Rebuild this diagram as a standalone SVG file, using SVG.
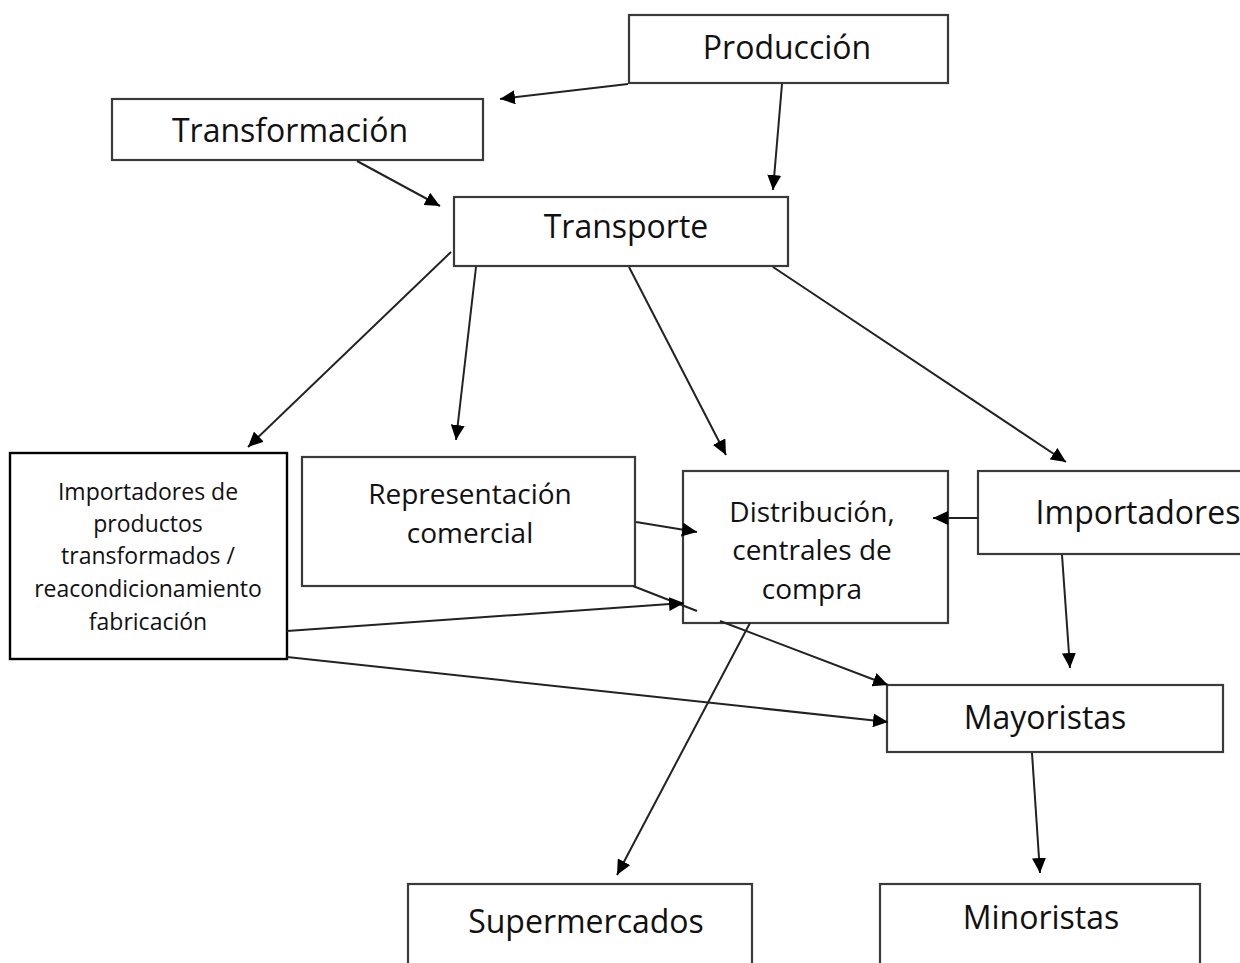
<svg xmlns="http://www.w3.org/2000/svg" width="1240" height="963" viewBox="0 0 1240 963">
<style>
.box{fill:#fff;stroke:#3a3a3a;stroke-width:2.2}
.boxk{fill:#fff;stroke:#000;stroke-width:2.4}
.t{font-family:"Open Sans","Liberation Sans",sans-serif;fill:#111;text-anchor:middle}
.big{font-size:32px}
.mid{font-size:28px}
.sm{font-size:23px}
.c{stroke:#222;stroke-width:2;fill:none}
.ca{stroke:#222;stroke-width:2;fill:none;marker-end:url(#ah)}
</style>
<defs>
<marker id="ah" markerUnits="userSpaceOnUse" markerWidth="16" markerHeight="14" refX="15" refY="7" orient="auto">
<path d="M0,0 L15,7 L0,14 z" fill="#000"/>
</marker>
</defs>
<rect width="1240" height="963" fill="#fff"/>
<g id="nodes">
<g id="produccion"><rect class="box" x="629" y="15" width="319" height="68"/><text class="t big" x="787" y="59">Producción</text></g>
<g id="transformacion"><rect class="box" x="112" y="99" width="371" height="61"/><text class="t big" x="290" y="142">Transformación</text></g>
<g id="transporte"><rect class="box" x="454" y="197" width="334" height="69"/><text class="t big" x="626" y="238">Transporte</text></g>
<g id="importadores-productos"><rect class="boxk" x="10" y="453" width="277" height="206"/>
<text class="t sm" x="148" y="500">Importadores de</text>
<text class="t sm" x="148" y="532">productos</text>
<text class="t sm" x="148" y="564">transformados /</text>
<text class="t sm" x="148" y="597">reacondicionamiento</text>
<text class="t sm" x="148" y="630">fabricación</text></g>
<g id="representacion"><rect class="box" x="302" y="457" width="333" height="129"/>
<text class="t mid" x="470" y="504">Representación</text>
<text class="t mid" x="470" y="543">comercial</text></g>
<g id="distribucion"><rect class="box" x="683" y="471" width="265" height="152"/>
<text class="t mid" x="812" y="522">Distribución,</text>
<text class="t mid" x="812" y="560">centrales de</text>
<text class="t mid" x="812" y="599">compra</text></g>
<g id="importadores"><rect class="box" x="978" y="471" width="290" height="83"/><text class="t big" x="1138" y="524">Importadores</text></g>
<g id="mayoristas"><rect class="box" x="887" y="685" width="336" height="67"/><text class="t big" x="1045" y="729">Mayoristas</text></g>
<g id="supermercados"><rect class="box" x="408" y="884" width="344" height="100"/><text class="t big" x="586" y="933">Supermercados</text></g>
<g id="minoristas"><rect class="box" x="880" y="884" width="320" height="100"/><text class="t big" x="1041" y="929">Minoristas</text></g>
</g>
<g id="connectors">
<path class="ca" d="M628,84 L500,99"/>
<path class="ca" d="M782,84 L773,190"/>
<path class="ca" d="M357,161 L440,206"/>
<path class="ca" d="M451,252 L248,447"/>
<path class="ca" d="M476,267 L456,440"/>
<path class="ca" d="M629,267 L726,455"/>
<path class="ca" d="M773,267 L1066,462"/>
<path class="ca" d="M978,518 L933,518"/>
<path class="ca" d="M1062,555 L1070,668"/>
<path class="ca" d="M636,522 L697,532"/>
<path class="c" d="M633,586 L697,611"/>
<path class="ca" d="M720,621 L888,685"/>
<path class="ca" d="M287,631 L684,603"/>
<path class="ca" d="M287,657 L888,722"/>
<path class="ca" d="M750,623 L617,875"/>
<path class="ca" d="M1032,753 L1040,873"/>
</g>
</svg>
